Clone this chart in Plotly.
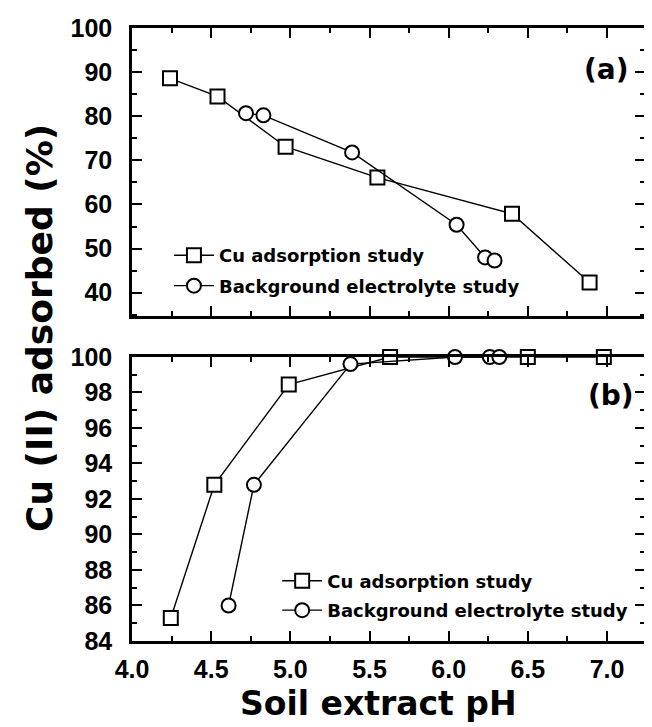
import plotly.graph_objects as go

# ---- data ----
ph_cu_a = [4.24, 4.54, 4.97, 5.55, 6.40, 6.89]
ads_cu_a = [88.6, 84.5, 73.1, 66.1, 57.9, 42.3]
ph_bg_a = [4.72, 4.83, 5.39, 6.05, 6.23, 6.29]
ads_bg_a = [80.7, 80.2, 71.8, 55.4, 48.0, 47.3]

ph_cu_b = [4.245, 4.52, 4.99, 5.63, 6.50, 6.98]
ads_cu_b = [85.3, 92.8, 98.45, 100.0, 100.0, 100.0]
ph_bg_b = [4.61, 4.77, 5.38, 6.04, 6.26, 6.32]
ads_bg_b = [86.0, 92.8, 99.6, 100.0, 100.0, 100.0]

series_names = ["Cu adsorption study", "Background electrolyte study"]
x_ticks = [4.0, 4.5, 5.0, 5.5, 6.0, 6.5, 7.0]
y_ticks_a = [40, 50, 60, 70, 80, 90, 100]
y_ticks_b = [84, 86, 88, 90, 92, 94, 96, 98, 100]

XR = [4.0, 7.24]
YRA = [34.7, 100]
YRB = [84, 100]

TICKFONT = dict(family="Liberation Sans Narrow, Liberation Sans, Arial", size=25, color="black", weight="bold")
LEGFONT = dict(family="DejaVu Sans", size=18, color="black", weight="bold")

fig = go.Figure()

def add(x, y, name, symbol, xa, ya, leg, grp):
    fig.add_trace(go.Scatter(
        x=x, y=y, name=name, mode="lines+markers", xaxis=xa, yaxis=ya,
        legend=leg, legendgroup=grp,
        line=dict(color="black", width=1.4),
        marker=dict(symbol=symbol, size=14, color="white", line=dict(color="black", width=2)),
        cliponaxis=False,
    ))

add(ph_cu_a, ads_cu_a, series_names[0], "square", "x", "y", "legend", "a1")
add(ph_bg_a, ads_bg_a, series_names[1], "circle", "x", "y", "legend", "a2")
add(ph_cu_b, ads_cu_b, series_names[0], "square", "x2", "y2", "legend2", "b1")
add(ph_bg_b, ads_bg_b, series_names[1], "circle", "x2", "y2", "legend2", "b2")

common_x = dict(range=XR, tickvals=x_ticks, tickformat=".1f", showline=True, linecolor="black",
                linewidth=2.5, mirror="ticks", ticks="inside", ticklen=10, tickwidth=2,
                tickcolor="black", showgrid=False, zeroline=False, tickfont=TICKFONT,
                minor=dict(dtick=0.25, ticks="inside", ticklen=5, tickwidth=1.5, tickcolor="black"))
common_y = dict(showline=True, linecolor="black", linewidth=2.5, mirror="ticks", ticks="inside",
                ticklen=10, tickwidth=2, tickcolor="black", showgrid=False, zeroline=False,
                tickfont=TICKFONT)

DOM_A = [0.530, 1.0]
DOM_B = [0.0, 0.4633]

def overlay(over, anchor, rng, vals):
    return dict(overlaying=over, anchor=anchor, range=rng, tickvals=vals, ticks="outside",
                ticklen=10, tickwidth=2, tickcolor="black", showticklabels=False,
                showline=False, showgrid=False, zeroline=False)

# the page body has an 8px default margin, so the figure is made 8px smaller
fig.update_layout(
    width=644, height=719,
    margin=dict(l=124, r=4, t=20, b=86),
    paper_bgcolor="white", plot_bgcolor="white",
    xaxis=dict(common_x, anchor="y", showticklabels=False),
    yaxis=dict(common_y, domain=DOM_A, range=YRA, tickvals=y_ticks_a, anchor="x",
               ticklabelstandoff=12,
               minor=dict(dtick=5, ticks="inside", ticklen=5, tickwidth=1.5, tickcolor="black")),
    xaxis2=dict(common_x, anchor="y2", ticklabelstandoff=4),
    yaxis2=dict(common_y, domain=DOM_B, range=YRB, tickvals=y_ticks_b, anchor="x2",
                ticklabelstandoff=12,
                minor=dict(dtick=1, ticks="inside", ticklen=5, tickwidth=1.5, tickcolor="black")),
    # overlay axes giving the outside half of the crossing major ticks
    xaxis3=overlay("x", "y", XR, x_ticks),
    yaxis3=overlay("y", "x", YRA, y_ticks_a),
    xaxis4=overlay("x2", "y2", XR, x_ticks),
    yaxis4=overlay("y2", "x2", YRB, y_ticks_b),
    legend=dict(x=0.072, y=0.659, xanchor="left", yanchor="top", bgcolor="rgba(0,0,0,0)",
                font=LEGFONT, tracegroupgap=4, itemwidth=40),
    legend2=dict(x=0.283, y=0.128, xanchor="left", yanchor="top", bgcolor="rgba(0,0,0,0)",
                 font=LEGFONT, tracegroupgap=3, itemwidth=40),
    showlegend=True,
)

TITLEFONT = dict(family="DejaVu Sans", size=33, color="black", weight="bold")
fig.add_annotation(text="Soil extract pH", xref="paper", yref="paper", x=0.48, y=-0.135,
                   xanchor="center", yanchor="bottom", showarrow=False, font=TITLEFONT,
                   borderpad=0)
fig.add_annotation(text="Cu (II) adsorbed (%)", xref="paper", yref="paper", x=-0.18, y=0.51,
                   xanchor="center", yanchor="middle", textangle=-90, showarrow=False,
                   font=dict(TITLEFONT, size=36))
fig.add_annotation(text="(a)", xref="paper", yref="paper", x=0.925, y=0.932,
                   xanchor="center", yanchor="middle", showarrow=False,
                   font=dict(family="DejaVu Sans", size=28, color="black", weight="bold"))
fig.add_annotation(text="(b)", xref="paper", yref="paper", x=0.934, y=0.401,
                   xanchor="center", yanchor="middle", showarrow=False,
                   font=dict(family="DejaVu Sans", size=28, color="black", weight="bold"))

fig.write_html("out.html")
